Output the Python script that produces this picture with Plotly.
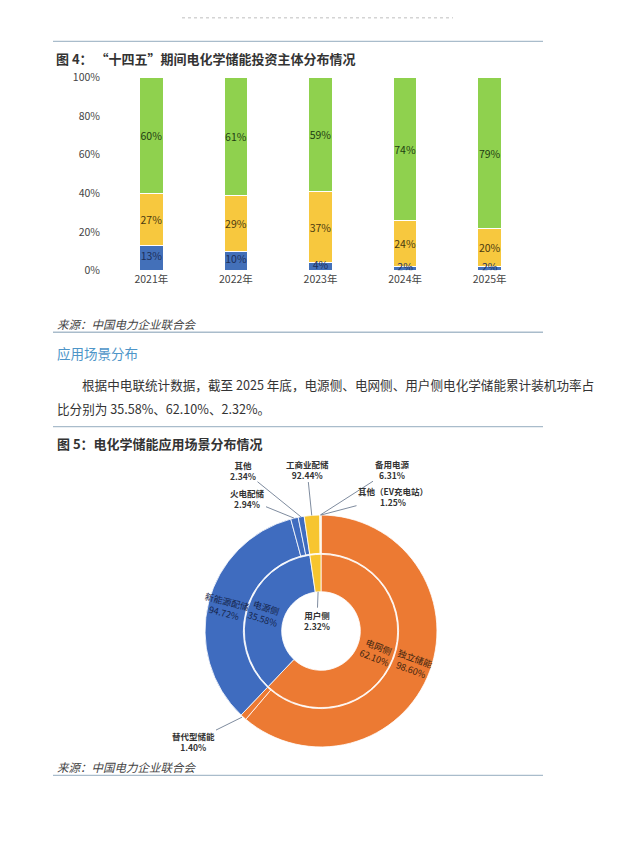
import math
import plotly.graph_objects as go

# 图4 数据
years = ["2021年", "2022年", "2023年", "2024年", "2025年"]
blue_share = [13, 10, 4, 2, 2]
yellow_share = [27, 29, 37, 24, 20]
green_share = [60, 61, 59, 74, 79]

# 图5 数据 (内环)
side_labels = ["电网侧", "电源侧", "用户侧"]
side_share = [62.10, 35.58, 2.32]
# 外环, 占所属内环的比例
sub_parent = [0, 0, 1, 1, 1, 2, 2, 2]
sub_labels = ["独立储能", "替代型储能", "新能源配储", "火电配储", "其他",
              "工商业配储", "备用电源", "其他（EV充电站）"]
sub_share = [98.60, 1.40, 94.72, 2.94, 2.34, 92.44, 6.31, 1.25]

W, H = 641, 864
FONT = "Noto Sans CJK SC"


def px(x):
    return x / W


def py(y):
    return 1 - y / H


fig = go.Figure()

# ---- 图4 stacked bars
bar_series = [(blue_share, "#4370B9", "#1c2f5a", False),
              (yellow_share, "#F7C83E", "#4a3a10", True),
              (green_share, "#8FD14E", "#1e3d12", True)]
for vals, col, tcol, show_txt in bar_series:
    fig.add_trace(go.Bar(
        x=years, y=vals, text=vals if show_txt else None, texttemplate="%{text}%" if show_txt else None,
        textposition="inside", insidetextanchor="middle", constraintext="none",
        textangle=0, textfont=dict(size=10.5, color=tcol, family=FONT),
        marker=dict(color=col, line=dict(color="white", width=1)),
        showlegend=False, hoverinfo="skip"))

# blue labels drawn on top so the thin 2% segments keep their text visible
totals = [b + y + g for b, y, g in zip(blue_share, yellow_share, green_share)]
fig.add_trace(go.Scatter(
    x=years, y=[b / t * 100 / 2 for b, t in zip(blue_share, totals)],
    mode="text", text=[f"{b}%" for b in blue_share],
    textfont=dict(size=10.5, color="#1c2f5a", family=FONT),
    showlegend=False, hoverinfo="skip"))

# ---- 图5 nested donuts
CX, CY = 321, 634
R_OUT, R_MID, R_IN = 118, 79, 40
side_colors = ["#EC7A33", "#3F6CBF", "#F7C52F"]
text_colors = ["#3b2410", "#16264d", "#3a3010"]

outer_values = [side_share[p] * s / 100 for p, s in zip(sub_parent, sub_share)]
outer_colors = [side_colors[p] for p in sub_parent]

fig.add_trace(go.Pie(
    values=outer_values, labels=[f"{i}" for i in range(len(sub_labels))],
    textinfo="none", sort=False, direction="clockwise", rotation=0,
    hole=R_MID / R_OUT,
    marker=dict(colors=outer_colors, line=dict(color="white", width=0.8)),
    domain=dict(x=[px(CX - R_OUT), px(CX + R_OUT)], y=[py(CY + R_OUT), py(CY - R_OUT)]),
    showlegend=False, hoverinfo="skip"))

fig.add_trace(go.Pie(
    values=side_share, labels=side_labels,
    textinfo="none", sort=False, direction="clockwise", rotation=0,
    hole=R_IN / (R_MID - 1),
    marker=dict(colors=side_colors, line=dict(color="white", width=0.8)),
    domain=dict(x=[px(CX - R_MID + 1), px(CX + R_MID - 1)], y=[py(CY + R_MID - 1), py(CY - R_MID + 1)]),
    showlegend=False, hoverinfo="skip"))


def mid_angle(values, i):
    total = sum(values)
    return (sum(values[:i]) + values[i] / 2) / total * 360


def polar(theta, r):
    t = math.radians(theta)
    return CX + r * math.sin(t), CY - r * math.cos(t)


annotations = []


def ring_label(values, i, r, text, color):
    # radial text at the slice centre
    th = mid_angle(values, i)
    x, y = polar(th, r)
    ang = th - 90 if th < 180 else th - 270
    annotations.append(dict(
        xref="paper", yref="paper", x=px(x), y=py(y), text=text, textangle=ang,
        showarrow=False, xanchor="center", yanchor="middle",
        font=dict(size=9, family=FONT, color=color)))


for i, v in enumerate(outer_values):
    if v > 10:
        ring_label(outer_values, i, (R_MID + R_OUT) / 2, f"{sub_labels[i]}<br>{sub_share[i]:.2f}%",
                   text_colors[sub_parent[i]])
for i, v in enumerate(side_share):
    if v > 10:
        ring_label(side_share, i, (R_IN + R_MID) / 2, f"{side_labels[i]}<br>{v:.2f}%", text_colors[i])

# small outer slices: label positions on the page
label_pos = {1: (193, 746), 3: (247, 500), 4: (243, 471), 5: (307, 470), 6: (392, 470), 7: (393, 497)}
for i, (tx, ty) in label_pos.items():
    bx, by = polar(mid_angle(outer_values, i), R_OUT)
    annotations.append(dict(
        xref="paper", yref="paper",
        x=px(bx), y=py(by), ax=tx - bx, ay=ty - by,
        text=f"<b>{sub_labels[i]}<br>{sub_share[i]:.2f}%</b>",
        showarrow=True, arrowhead=0, arrowwidth=0.8, arrowcolor="#5d6d85",
        font=dict(size=8.5, family=FONT, color="#333333")))

bx, by = polar(mid_angle(side_share, 2), R_IN)
annotations.append(dict(
    xref="paper", yref="paper",
    x=px(bx), y=py(by), ax=317 - bx, ay=623 - by,
    text=f"<b>{side_labels[2]}<br>{side_share[2]:.2f}%</b>",
    showarrow=True, arrowhead=0, arrowwidth=0.8, arrowcolor="#5d6d85",
    font=dict(size=8.5, family=FONT, color="#333333")))


def page_text(x, y, text, size, color="#333333", anchor="left"):
    annotations.append(dict(
        xref="paper", yref="paper",
        x=px(x), y=py(y), text=text, showarrow=False, xanchor=anchor, yanchor="middle",
        font=dict(size=size, family=FONT, color=color)))


page_text(54, 51, "<b>图 4： “十四五”期间电化学储能投资主体分布情况</b>", 13)
page_text(55, 322, "<i>来源：中国电力企业联合会</i>", 11.5, "#444444")
page_text(55, 351, "应用场景分布", 13.5, "#4E95C8")
page_text(80, 383, "根据中电联统计数据，截至 2025 年底，电源侧、电网侧、用户侧电化学储能累计装机功率占", 12.6)
page_text(55, 408, "比分别为 35.58%、62.10%、2.32%。", 12.6)
page_text(55, 443, "<b>图 5：电化学储能应用场景分布情况</b>", 13)
page_text(55, 772, "<i>来源：中国电力企业联合会</i>", 11.5, "#444444")

shapes = []
for yy in [34, 330, 426, 781]:
    shapes.append(dict(type="line", xref="paper", yref="paper",
                       x0=px(53), x1=px(543), y0=py(yy), y1=py(yy),
                       line=dict(color="#a9bccb", width=1.3)))
shapes.append(dict(type="line", xref="paper", yref="paper",
                   x0=px(182), x1=px(453), y0=py(10), y1=py(10),
                   line=dict(color="#d4d4d4", width=1.5, dash="dot")))

fig.update_layout(
    width=W, height=H, margin=dict(l=0, r=0, t=0, b=0),
    paper_bgcolor="white", plot_bgcolor="white",
    barmode="stack", barnorm="percent", bargap=0.72,
    font=dict(family=FONT, color="#444444"),
    annotations=annotations, shapes=shapes,
    xaxis=dict(domain=[px(109), px(532)], showgrid=False, showline=False, zeroline=False,
               tickfont=dict(size=10.5, color="#444444"), ticklabelstandoff=1),
    yaxis=dict(domain=[py(267), py(71)], range=[0, 100], dtick=20, ticksuffix="%",
               showgrid=False, showline=False, zeroline=False,
               tickfont=dict(size=10.5, color="#444444"), ticklabelstandoff=8),
)

fig.write_html("out.html", config={"displayModeBar": False},
               post_script="document.body.style.margin='0';document.body.style.overflow='hidden';")
